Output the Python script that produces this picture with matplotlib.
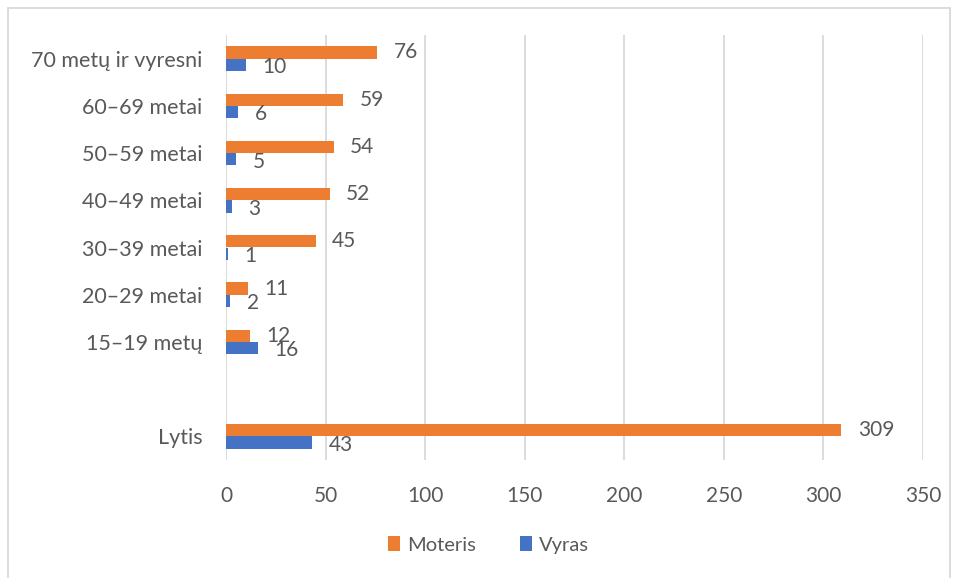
import numpy as np
import matplotlib.pyplot as plt
from matplotlib.patches import Rectangle

plt.rcParams['font.family'] = ['Lato', 'DejaVu Sans']

# duomenys (is virsaus i apacia)
kategorijos = ["70 metų ir vyresni", "60–69 metai", "50–59 metai", "40–49 metai",
               "30–39 metai", "20–29 metai", "15–19 metų", "", "Lytis"]
moteris = [76, 59, 54, 52, 45, 11, 12, np.nan, 309]
vyras = [10, 6, 5, 3, 1, 2, 16, np.nan, 43]
x_ticks = [0, 50, 100, 150, 200, 250, 300, 350]

c_mot = '#ED7D31'
c_vyr = '#4472C4'
c_txt = '#595959'
c_grid = '#D9D9D9'

fig = plt.figure(figsize=(9.58, 5.78), dpi=100)
ax = fig.add_axes([226/958, 1-460/578, (923-226)/958, (460-35)/578])

y = np.arange(len(kategorijos))
h = 0.26
ax.barh(y - h/2, moteris, height=h, color=c_mot, label='Moteris', zorder=3)
ax.barh(y + h/2, vyras, height=h, color=c_vyr, label='Vyras', zorder=3)

for i in range(len(kategorijos)):
    if not np.isnan(moteris[i]):
        ax.annotate(f"{moteris[i]:.0f}", (moteris[i], y[i] - h/2), xytext=(12, 0),
                    textcoords='offset points', ha='left', va='center',
                    fontsize=15, color=c_txt, zorder=4)
    if not np.isnan(vyras[i]):
        ax.annotate(f"{vyras[i]:.0f}", (vyras[i], y[i] + h/2 + 0.05), xytext=(12, 0),
                    textcoords='offset points', ha='left', va='center',
                    fontsize=15, color=c_txt, zorder=4)

ax.set_xlim(0, 350)
ax.set_ylim(len(kategorijos) - 0.5, -0.5)
ax.set_xticks(x_ticks)
ax.set_yticks(y)
ax.set_yticklabels(kategorijos)
ax.tick_params(axis='both', length=0, labelcolor=c_txt)
ax.tick_params(axis='x', pad=19, labelsize=15)
ax.tick_params(axis='y', pad=17, labelsize=15.5)
ax.grid(axis='x', color=c_grid, linewidth=1.3, zorder=0)
for s in ax.spines.values():
    s.set_visible(False)

fig.legend(loc='center', bbox_to_anchor=(0.51, 1-545/578), ncol=2, frameon=False,
           fontsize=14.5, labelcolor=c_txt, handlelength=0.6, handleheight=0.75,
           handletextpad=0.35, columnspacing=2.2)

# remelis aplink diagrama
fig.patches.append(Rectangle((8/958, -0.02), (950-8)/958, 1.02-8/578,
                             transform=fig.transFigure, fill=False,
                             edgecolor=c_grid, linewidth=1.3))

fig.savefig('out.png', dpi=100)
